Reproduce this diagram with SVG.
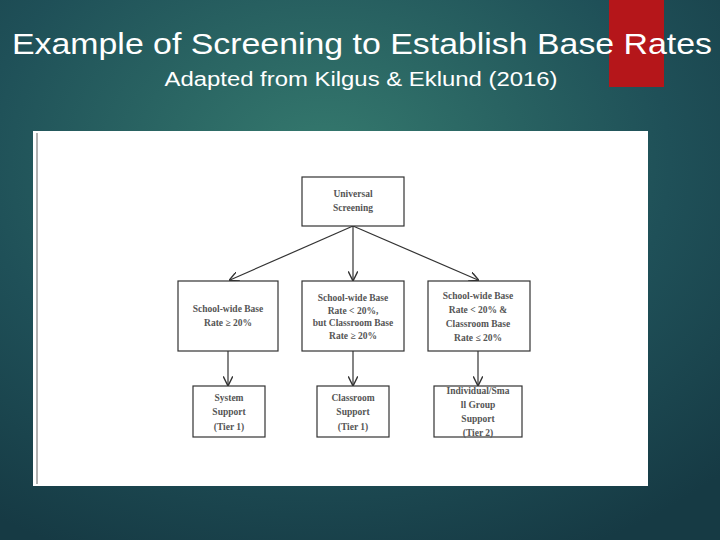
<svg xmlns="http://www.w3.org/2000/svg" width="720" height="540" viewBox="0 0 720 540">
<defs>
<radialGradient id="bg" cx="0.45" cy="0.3" r="0.8">
<stop offset="0" stop-color="#357a6e"/><stop offset="0.6" stop-color="#1f5058"/><stop offset="1" stop-color="#163a44"/>
</radialGradient>
<marker id="ah" viewBox="0 0 10 10" refX="9" refY="5" markerWidth="8" markerHeight="8" orient="auto"><path d="M0,0 L10,5 L0,10" fill="none" stroke="#333" stroke-width="1.5"/></marker>
<style>
.b{fill:#fff;stroke:#333;stroke-width:1.2}
.t{font-family:"Liberation Serif",serif;font-weight:bold;font-size:9.5px;fill:#555;text-anchor:middle}
.c{stroke:#333;stroke-width:1.2;fill:none;marker-end:url(#ah)}
</style>
</defs>
<rect width="720" height="540" fill="url(#bg)"/>
<rect x="609" y="0" width="55" height="87" fill="#b5161a"/>
<text x="362" y="54" font-family="Liberation Sans,sans-serif" font-size="30" fill="#fff" text-anchor="middle" textLength="700" lengthAdjust="spacingAndGlyphs">Example of Screening to Establish Base Rates</text>
<text x="361" y="86" font-family="Liberation Sans,sans-serif" font-size="20" fill="#fff" text-anchor="middle" textLength="393" lengthAdjust="spacingAndGlyphs">Adapted from Kilgus &amp; Eklund (2016)</text>
<rect x="33" y="131" width="615" height="355" fill="#fff"/>
<line x1="37" y1="133" x2="37" y2="484" stroke="#999" stroke-width="1.5"/>
<g id="connectors">
<path class="c" d="M353,226 L230,280"/>
<path class="c" d="M353,226 L353,280"/>
<path class="c" d="M353,226 L478,280"/>
<path class="c" d="M228,351 L228,385"/>
<path class="c" d="M353,351 L353,385"/>
<path class="c" d="M478,351 L478,385"/>
</g>
<g id="n1"><rect class="b" x="302" y="177" width="102" height="49"/><text class="t" x="353" y="197">Universal</text><text class="t" x="353" y="211">Screening</text></g>
<g id="n2"><rect class="b" x="178" y="281" width="100" height="70"/><text class="t" x="228" y="312">School-wide Base</text><text class="t" x="228" y="326">Rate ≥ 20%</text></g>
<g id="n3"><rect class="b" x="302" y="281" width="102" height="70"/><text class="t" x="353" y="301">School-wide Base</text><text class="t" x="353" y="314">Rate &lt; 20%,</text><text class="t" x="353" y="326">but Classroom Base</text><text class="t" x="353" y="339">Rate ≥ 20%</text></g>
<g id="n4"><rect class="b" x="428" y="281" width="102" height="70"/><text class="t" x="478" y="299">School-wide Base</text><text class="t" x="478" y="313">Rate &lt; 20% &amp;</text><text class="t" x="478" y="327">Classroom Base</text><text class="t" x="478" y="341">Rate ≤ 20%</text></g>
<g id="n5"><rect class="b" x="193" y="386" width="72" height="51"/><text class="t" x="229" y="401">System</text><text class="t" x="229" y="415">Support</text><text class="t" x="229" y="430">(Tier 1)</text></g>
<g id="n6"><rect class="b" x="317" y="386" width="72" height="51"/><text class="t" x="353" y="401">Classroom</text><text class="t" x="353" y="415">Support</text><text class="t" x="353" y="430">(Tier 1)</text></g>
<g id="n7"><rect class="b" x="434" y="386" width="88" height="51"/><text class="t" x="478" y="394">Individual/Sma</text><text class="t" x="478" y="408">ll Group</text><text class="t" x="478" y="422">Support</text><text class="t" x="478" y="436">(Tier 2)</text></g>
</svg>
